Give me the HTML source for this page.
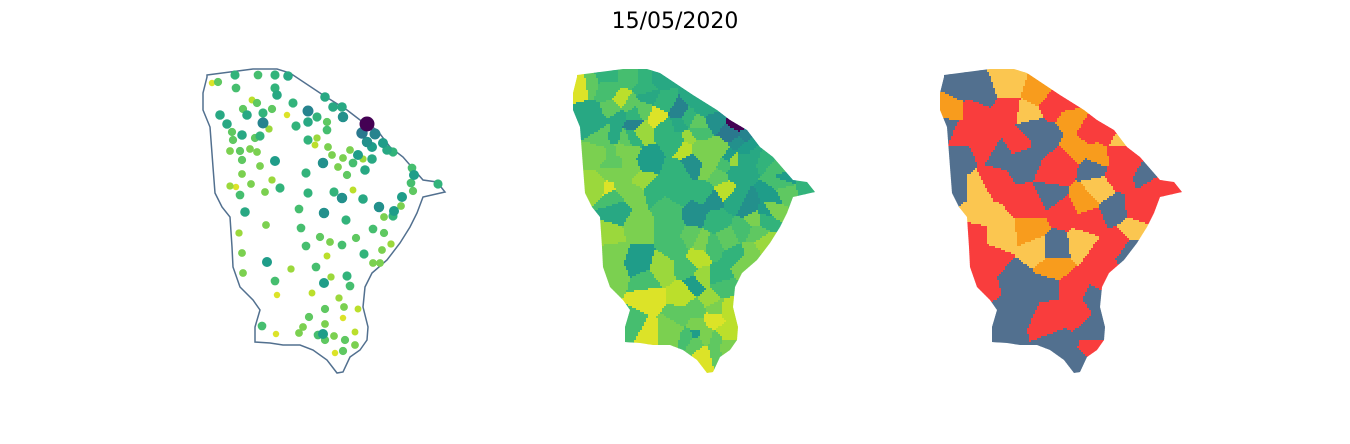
<!DOCTYPE html>
<html><head><meta charset="utf-8"><style>
body{margin:0;background:#fff;}
svg{display:block;font-family:"DejaVu Sans","Liberation Sans",sans-serif;}
</style></head><body>
<svg id="fig" width="1350" height="444" viewBox="0 0 1350 444">
<text x="675" y="28" text-anchor="middle" font-size="22" fill="#000">15/05/2020</text>
<defs id="defs"></defs>
<g id="p2"></g>
<g id="p3"></g>
<g id="p1"></g>
</svg>
<script>
const outline=[[207,75],[253,69],[277,69],[290,73],[323,95],[347,110],[360,120],[377,130],[390,147],[403,157],[423,180],[437,182],[445,192],[423,197],[417,213],[410,227],[400,243],[387,260],[372,273],[365,287],[363,307],[368,327],[367,340],[360,350],[350,357],[343,372],[337,373],[327,360],[313,350],[300,345],[283,345],[270,343],[255,342],[255,327],[260,310],[253,300],[240,287],[233,267],[232,247],[230,217],[222,207],[215,193],[213,167],[210,127],[203,110],[203,93],[207,77]];
const dotX=[218,212,235,258,275,288,236,275,277,252,257,243,220,247,263,272,263,287,293,308,325,333,342,343,317,327,308,296,327,269,227,232,242,233,260,255,230,240,250,257,308,317,315,367,362,375,367,372,383,393,387,358,372,363,350,343,353,347,338,365,328,332,323,275,242,260,242,272,230,236,251,240,265,280,306,308,334,342,353,363,379,402,413,411,414,412,438,401,394,393,384,245,299,324,346,266,301,373,384,239,320,330,342,356,306,391,242,382,364,327,373,380,267,291,316,243,347,331,275,324,350,277,312,339,325,344,358,309,343,325,303,262,276,299,318,323,334,325,345,355,355,343,335];
const dotY=[82,83,75,75,75,76,88,88,95,100,103,109,115,115,113,109,123,115,103,111,97,107,107,117,117,122,122,126,130,129,124,132,135,140,136,138,151,151,149,152,140,138,145,124,133,134,142,147,143,152,150,155,159,159,150,158,163,175,167,170,147,155,163,161,160,166,174,180,186,187,184,195,192,188,173,193,192,198,190,199,207,197,191,183,175,168,184,206,211,216,217,212,209,213,220,225,228,229,233,233,237,242,245,238,246,244,253,250,254,256,263,263,262,269,267,273,276,277,281,283,286,295,293,298,309,307,309,317,318,324,327,326,334,333,335,334,336,340,340,332,345,351,353];
const dotV=[.75,.95,.65,.7,.65,.6,.7,.65,.6,.9,.75,.75,.6,.6,.65,.75,.45,.95,.65,.45,.6,.6,.6,.5,.65,.75,.6,.65,.7,.85,.6,.75,.6,.75,.65,.75,.8,.75,.8,.8,.65,.85,.9,0,.4,.45,.5,.55,.55,.65,.6,.55,.6,.85,.8,.8,.7,.75,.8,.6,.8,.8,.5,.55,.75,.8,.8,.85,.85,.95,.8,.7,.8,.65,.65,.65,.65,.5,.9,.6,.5,.55,.75,.7,.55,.7,.65,.8,.55,.65,.8,.6,.7,.5,.65,.8,.7,.7,.75,.85,.75,.8,.7,.75,.7,.85,.8,.8,.65,.9,.8,.8,.55,.85,.7,.8,.65,.85,.7,.55,.7,.95,.9,.85,.75,.8,.9,.75,.95,.8,.8,.7,.95,.8,.7,.55,.8,.75,.75,.9,.8,.75,.95];
const catX=[226,213,220,216,260,286,293,243,260,286,310,326,343,353,276,266,316,376,393,360,313,356,410,306,
 313,333,353,373,393,420,440,400,380,326,316,293,326,353,360,370,333,340,313,353,253,246,236,253,250,270,236,220,280,383,380,
 270,240,263,300,346,393,360,290,380,240,
 216,300,336,336,346,293,316,360];
const catY=[87,127,160,187,153,160,127,93,327,300,287,347,360,327,280,313,247,210,247,300,193,167,170,137,
 103,100,127,133,160,187,187,207,173,160,173,203,210,220,253,280,287,313,313,350,260,287,233,180,147,110,110,130,140,240,153,
 83,213,233,247,243,230,187,113,137,187,
 110,93,117,150,200,230,267,157];
const catC=[0,0,0,0,0,0,0,0,0,0,0,0,0,0,0,0,0,0,0,0,0,0,0,0,
 1,1,1,1,1,1,1,1,1,1,1,1,1,1,1,1,1,1,1,1,1,1,1,1,1,1,1,1,1,1,1,
 3,3,3,3,3,3,3,3,3,3,
 2,2,2,2,2,2,2,2];
const catColors=['#52708f','#f93d3d','#f89c1d','#fbc650'];
const offsets=[0,370,737];
const NS='http://www.w3.org/2000/svg';
const vir=[[68,1,84],[72,40,120],[62,74,137],[49,104,142],[38,130,142],[31,158,137],[53,183,121],[109,205,89],[180,222,44],[253,231,37]];
function viridis(t){t=Math.max(0,Math.min(1,t))*(vir.length-1);const i=Math.min(vir.length-2,Math.floor(t)),f=t-i;const c=vir[i].map((a,k)=>Math.round(a+(vir[i+1][k]-a)*f));return `rgb(${c[0]},${c[1]},${c[2]})`;}
function ptsStr(dx){return outline.map(p=>(p[0]+dx)+','+p[1]).join(' ');}
const defs=document.getElementById('defs');
[1,2].forEach(k=>{const cp=document.createElementNS(NS,'clipPath');cp.setAttribute('id','clip'+k);const pg=document.createElementNS(NS,'polygon');pg.setAttribute('points',ptsStr(offsets[k]));cp.appendChild(pg);defs.appendChild(cp);});
function voronoi(g,k,xs,ys,colorFn){
  const dx=offsets[k];const cell=2;const inner=document.createElementNS(NS,'g');inner.setAttribute('clip-path','url(#clip'+k+')');
  for(let y=66;y<376;y+=cell){let runStart=null,runCol=null;
    for(let x=200;x<=448;x+=cell){let best=0,bd=1e9;for(let i=0;i<xs.length;i++){const d=(xs[i]-x)**2+(ys[i]-y)**2;if(d<bd){bd=d;best=i;}}
      const col=x<448?colorFn(best):null;
      if(col!==runCol){if(runCol!==null){const r=document.createElementNS(NS,'rect');r.setAttribute('x',runStart+dx);r.setAttribute('y',y);r.setAttribute('width',x-runStart+0.4);r.setAttribute('height',cell+0.4);r.setAttribute('fill',runCol);inner.appendChild(r);}runStart=x;runCol=col;}
    }}
  g.appendChild(inner);
}
voronoi(document.getElementById('p2'),1,dotX,dotY,i=>viridis(dotV[i]));
voronoi(document.getElementById('p3'),2,catX,catY,i=>catColors[catC[i]]);
const p1=document.getElementById('p1');
const ol=document.createElementNS(NS,'polygon');


ol.setAttribute('points',ptsStr(0));ol.setAttribute('fill','#fff');ol.setAttribute('stroke','#52708f');ol.setAttribute('stroke-width','1.5');
p1.appendChild(ol);
const order=dotV.map((v,i)=>i).sort((a,b)=>dotV[b]-dotV[a]);
order.forEach(i=>{const c=document.createElementNS(NS,'circle');
  
  
  c.setAttribute('cx',dotX[i]);c.setAttribute('cy',dotY[i]);c.setAttribute('r',3+(1-dotV[i])*4.5);c.setAttribute('fill',viridis(dotV[i]));p1.appendChild(c);});
</script>
</body></html>
